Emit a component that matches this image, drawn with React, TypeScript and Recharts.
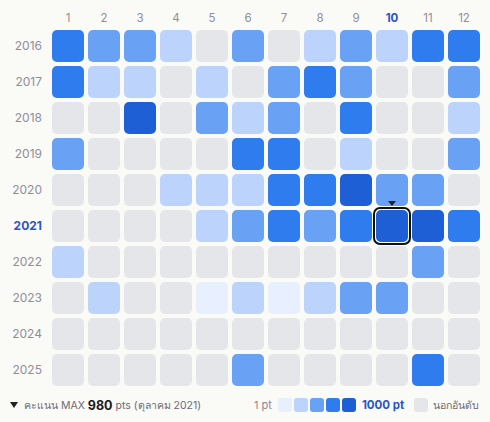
import React from "react";
import { ScatterChart, Scatter, XAxis, YAxis } from "recharts";

const years = [2016, 2017, 2018, 2019, 2020, 2021, 2022, 2023, 2024, 2025];
const months = [1, 2, 3, 4, 5, 6, 7, 8, 9, 10, 11, 12];

// points per month (null = out of ranking)
const pts2016 = [720, 520, 480, 300, null, 510, null, 280, 540, 260, 700, 690];
const pts2017 = [710, 310, 290, null, 270, null, 470, 730, 500, null, null, 460];
const pts2018 = [null, null, 860, null, 490, 330, 510, null, 680, null, null, 250];
const pts2019 = [450, null, null, null, null, 740, 690, null, 240, null, null, 430];
const pts2020 = [null, null, null, 290, 300, 320, 660, 700, 880, 520, 480, null];
const pts2021 = [null, null, null, null, 310, 470, 690, 440, 710, 980, 900, 720];
const pts2022 = [280, null, null, null, null, null, null, null, null, null, 500, null];
const pts2023 = [null, 300, null, null, 120, 320, 90, 290, 530, 560, null, null];
const pts2024 = [null, null, null, null, null, null, null, null, null, null, null, null];
const pts2025 = [null, null, null, null, null, 490, null, null, null, null, 750, null];

const ptsByYear = [pts2016, pts2017, pts2018, pts2019, pts2020, pts2021, pts2022, pts2023, pts2024, pts2025];

const levelColors = ["#e8effe", "#bcd3fb", "#69a1f4", "#2f7cee", "#1f5fd6"];
const emptyColor = "#e5e6ea";
const maxYear = 2021;
const maxMonth = 10;

const colorFor = (v: number | null) => {
  if (v === null || v === undefined) return emptyColor;
  const idx = Math.min(4, Math.floor(v / 200));
  return levelColors[idx];
};

const data = years.flatMap((y, yi) =>
  months.map((m, mi) => ({ year: y, month: m, pts: ptsByYear[yi][mi] }))
);

const FONT = "Inter, 'Noto Sans', 'DejaVu Sans', sans-serif";
const GRAY = "#8f8f9b";
const BLUE = "#2a55c8";

const Cell = (props: any) => {
  const { cx, cy, payload } = props;
  const isMax = payload.year === maxYear && payload.month === maxMonth;
  return (
    <g>
      <rect x={cx - 16} y={cy - 16} width={32} height={32} rx={5} ry={5} fill={colorFor(payload.pts)} />
      {isMax && (
        <>
          <rect x={cx - 18} y={cy - 18} width={36} height={36} rx={6} ry={6} fill="none" stroke="#111" strokeWidth={2} />
          <path d={`M${cx - 4},${cy - 25} L${cx + 4},${cy - 25} L${cx},${cy - 20} Z`} fill="#222" />
        </>
      )}
    </g>
  );
};

const MonthTick = (props: any) => {
  const { x, payload } = props;
  const hl = payload.value === maxMonth;
  return (
    <text x={x} y={22} textAnchor="middle" fontFamily={FONT} fontSize={11.5} fill={hl ? BLUE : GRAY} fontWeight={hl ? 700 : 400}>
      {payload.value}
    </text>
  );
};

const YearTick = (props: any) => {
  const { x, y, payload } = props;
  const hl = payload.value === maxYear;
  return (
    <text x={x} y={y} dy={4} textAnchor="end" fontFamily={FONT} fontSize={12} fill={hl ? BLUE : GRAY} fontWeight={hl ? 700 : 400}>
      {payload.value}
    </text>
  );
};

export default function App() {
  return (
    <div style={{ position: "absolute", left: 0, top: 0, width: 490, height: 422, background: "#fafaf7", fontFamily: FONT }}>
      <ScatterChart width={490} height={422} margin={{ top: 0, right: 8, bottom: 34, left: 0 }}>
        <XAxis
          type="number"
          dataKey="month"
          orientation="top"
          domain={[0.5, 12.5]}
          ticks={months}
          height={28}
          axisLine={false}
          tickLine={false}
          tick={<MonthTick />}
          interval={0}
        />
        <YAxis
          type="number"
          dataKey="year"
          domain={[2015.5, 2025.5]}
          reversed
          ticks={years}
          width={50}
          axisLine={false}
          tickLine={false}
          tickMargin={8}
          tickSize={0}
          tick={<YearTick />}
          interval={0}
        />
        <Scatter data={data} shape={<Cell />} isAnimationActive={false} />
      </ScatterChart>
      <div style={{ position: "absolute", left: 10, top: 397, fontSize: 10.5, color: "#6b6b78", whiteSpace: "nowrap", display: "flex", alignItems: "center", height: 16 }}>
        <svg width={8} height={6} style={{ marginRight: 6 }}>
          <path d="M0,0 L8,0 L4,6 Z" fill="#222" />
        </svg>
        <span>คะแนน MAX&nbsp;</span>
        <b style={{ color: "#1a1a1a", fontSize: 12.5 }}>980</b>
        <span>&nbsp;pts (ตุลาคม 2021)</span>
      </div>
      <div style={{ position: "absolute", left: 254, top: 397, fontSize: 11, color: "#8a8a96", whiteSpace: "nowrap", display: "flex", alignItems: "center", height: 16 }}>
        <span style={{ marginRight: 6 }}>1 pt</span>
        {levelColors.map((c) => (
          <span key={c} style={{ display: "inline-block", width: 14, height: 14, borderRadius: 3, background: c, marginRight: 2 }} />
        ))}
        <b style={{ color: BLUE, marginLeft: 4, fontSize: 11.5 }}>1000 pt</b>
        <span style={{ display: "inline-block", width: 14, height: 14, borderRadius: 3, background: emptyColor, marginLeft: 10, marginRight: 5 }} />
        <span style={{ color: "#6b6b78", fontSize: 10.5 }}>นอกอันดับ</span>
      </div>
    </div>
  );
}
